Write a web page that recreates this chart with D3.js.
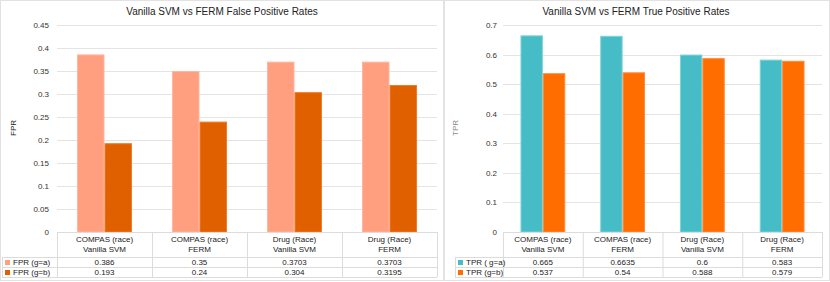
<!DOCTYPE html>
<html><head><meta charset="utf-8">
<script src="https://cdn.jsdelivr.net/npm/d3@7"></script>
<style>
body{margin:0;background:#fff;}
text{font-family:"Liberation Sans",Arial,sans-serif;}
</style></head>
<body><svg id="c" width="830" height="282"></svg>
<script>
const categories = [["COMPAS (race)","Vanilla SVM"],["COMPAS (race)","FERM"],["Drug (Race)","Vanilla SVM"],["Drug (Race)","FERM"]];
const fprA = [0.386, 0.35, 0.3703, 0.3703];
const fprB = [0.193, 0.24, 0.304, 0.3195];
const fprALabels = ["0.386","0.35","0.3703","0.3703"];
const fprBLabels = ["0.193","0.24","0.304","0.3195"];
const tprA = [0.665, 0.6635, 0.6, 0.583];
const tprB = [0.537, 0.54, 0.588, 0.579];
const tprALabels = ["0.665","0.6635","0.6","0.583"];
const tprBLabels = ["0.537","0.54","0.588","0.579"];
const fprTicks = [0,0.05,0.1,0.15,0.2,0.25,0.3,0.35,0.4,0.45];
const fprTickLabels = ["0","0.05","0.1","0.15","0.2","0.25","0.3","0.35","0.4","0.45"];
const tprTicks = [0,0.1,0.2,0.3,0.4,0.5,0.6,0.7];
const tprTickLabels = ["0","0.1","0.2","0.3","0.4","0.5","0.6","0.7"];

const svg = d3.select("#c");

function panel(o){
  const g = svg.append("g");
  g.append("rect").attr("x",o.px+0.5).attr("y",0.5).attr("width",o.pw-1).attr("height",280)
    .attr("fill","#fff").attr("stroke","#e2e2e2");
  g.append("text").attr("x",o.titleX).attr("y",15).attr("text-anchor","middle")
    .attr("font-size","10px").attr("fill","#222").text(o.title);
  const y = d3.scaleLinear().domain([0,o.ymax]).range([232,25]);
  const x = d3.scaleBand().domain(d3.range(categories.length)).range([o.x0,o.x1]);
  const sub = d3.scaleBand().domain([0,1]).range([0,x.bandwidth()]).paddingOuter(o.pad).paddingInner(0);
  g.selectAll(".grid").data(o.ticks).join("line")
    .attr("x1",o.x0).attr("x2",o.x1)
    .attr("y1",d=>Math.round(y(d))+0.5).attr("y2",d=>Math.round(y(d))+0.5)
    .attr("stroke","#e4e4e4");
  g.selectAll(".tl").data(o.ticks).join("text")
    .attr("x",o.tickX).attr("y",d=>y(d)+3).attr("text-anchor","end")
    .attr("font-size","8px").attr("fill","#333").text((d,i)=>o.tickLabels[i]);
  g.append("text").attr("transform",`translate(${o.ylX},128) rotate(-90)`)
    .attr("text-anchor","middle").attr("font-size","8px").attr("fill",o.ylColor).text(o.ylabel);
  const series=[o.a,o.b];
  series.forEach((vals,s)=>{
    g.selectAll(".b"+s).data(vals).join("rect")
      .attr("x",(d,i)=>x(i)+sub(s)+0.5).attr("y",d=>y(d)+0.5)
      .attr("width",sub.bandwidth()-1).attr("height",d=>232-y(d)-0.5)
      .attr("fill",o.colors[s]).attr("stroke",o.strokes[s]).attr("stroke-width",1);
  });
  const tb = g.append("g").attr("stroke","#dcdcdc").attr("fill","none");
  const rowY=[232,257,267,277];
  categories.forEach((c,i)=>{
    tb.append("line").attr("x1",x(i)+0.5).attr("x2",x(i)+0.5).attr("y1",232).attr("y2",277);
  });
  tb.append("line").attr("x1",o.x1+0.5).attr("x2",o.x1+0.5).attr("y1",232).attr("y2",277);
  tb.append("line").attr("x1",o.x0).attr("x2",o.x1).attr("y1",232.5).attr("y2",232.5);
  [257,267,277].forEach(yy=>tb.append("line").attr("x1",o.legX).attr("x2",o.x1).attr("y1",yy+0.5).attr("y2",yy+0.5));
  tb.append("line").attr("x1",o.legX+0.5).attr("x2",o.legX+0.5).attr("y1",257).attr("y2",277);
  categories.forEach((c,i)=>{
    const cx=x(i)+x.bandwidth()/2;
    g.append("text").attr("x",cx).attr("y",242).attr("text-anchor","middle").attr("font-size","8px").attr("fill","#222").text(c[0]);
    g.append("text").attr("x",cx).attr("y",252).attr("text-anchor","middle").attr("font-size","8px").attr("fill","#222").text(c[1]);
    g.append("text").attr("x",cx).attr("y",265).attr("text-anchor","middle").attr("font-size","8px").attr("fill","#222").text(o.aL[i]);
    g.append("text").attr("x",cx).attr("y",275).attr("text-anchor","middle").attr("font-size","8px").attr("fill","#222").text(o.bL[i]);
  });
  o.names.forEach((n,s)=>{
    const yy=rowY[s+1];
    g.append("rect").attr("x",o.legX+3).attr("y",yy+3).attr("width",5).attr("height",5).attr("fill",o.colors[s]);
    g.append("text").attr("x",o.legX+11).attr("y",yy+8).attr("font-size","8px").attr("fill","#222").text(n);
  });
}

panel({px:0,pw:444,title:"Vanilla SVM vs FERM False Positive Rates",titleX:222,ymax:0.45,
  x0:57,x1:437,pad:0.73,ticks:fprTicks,tickLabels:fprTickLabels,tickX:49,ylX:16,ylabel:"FPR",ylColor:"#222",
  a:fprA,b:fprB,aL:fprALabels,bL:fprBLabels,colors:["#FF9F80","#E06000"],strokes:["#FFB59D","#F07A26"],
  legX:2,names:["FPR (g=a)","FPR (g=b)"]});
panel({px:444,pw:386,title:"Vanilla SVM vs FERM True Positive Rates",titleX:636,ymax:0.7,
  x0:503,x1:822,pad:0.78,ticks:tprTicks,tickLabels:tprTickLabels,tickX:497,ylX:458,ylabel:"TPR",ylColor:"#888",
  a:tprA,b:tprB,aL:tprALabels,bL:tprBLabels,colors:["#46BDC6","#FF6D01"],strokes:["#7DD3D9","#FF8A36"],
  legX:455,names:["TPR ( g=a)","TPR (g=b)"]});
</script></body></html>
